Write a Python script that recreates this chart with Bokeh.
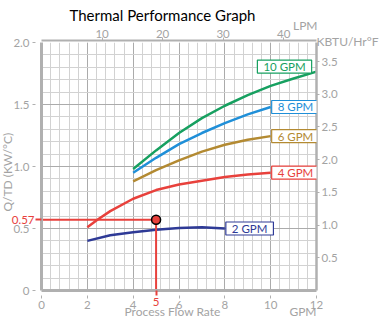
import numpy as np
from bokeh.plotting import figure
from bokeh.models import Range1d, LinearAxis, FixedTicker, Label, Title
from bokeh.embed import file_html
from bokeh.resources import INLINE

# ---- data ----
flow_2 = [2, 3, 4, 5, 6, 7, 8]
q_2 = [0.40, 0.445, 0.47, 0.49, 0.505, 0.51, 0.50]
flow_4 = [2, 2.44, 3, 4, 5, 6, 7, 8, 9, 10]
q_4 = [0.51, 0.57, 0.64, 0.74, 0.81, 0.855, 0.885, 0.915, 0.935, 0.95]
flow_6 = [4, 5, 6, 7, 8, 9, 10]
q_6 = [0.88, 0.97, 1.05, 1.12, 1.175, 1.215, 1.245]
flow_8 = [4, 5, 6, 7, 8, 9, 10]
q_8 = [0.95, 1.07, 1.18, 1.27, 1.35, 1.42, 1.48]
flow_10 = [4, 5, 6, 7, 8, 9, 10, 11, 12]
q_10 = [0.98, 1.13, 1.27, 1.39, 1.49, 1.575, 1.65, 1.71, 1.765]

series_names = ["2 GPM", "4 GPM", "6 GPM", "8 GPM", "10 GPM"]
series_colors = ["#2e3a96", "#e8413c", "#b38a32", "#1f8fd8", "#17a060"]

gpm_ticks = [0, 2, 4, 6, 8, 10, 12]
q_ticks = [0, 0.5, 1.0, 1.5, 2.0]
lpm_ticks = [10, 20, 30, 40]
kbtu_ticks = [0.5, 1.0, 1.5, 2.0, 2.5, 3.0, 3.5]

highlight_flow = 5
highlight_q = 0.57

GPM_MAX = 12
Q_MAX = 2.0
LPM_PER_GPM = 3.785
KBTU_PER_KW_C = 1.896

FONT = "Lato"
GRAY = "#a3a3a3"
AX = "#b0b0b0"
RED = "#e8413c"

p = figure(width=380, height=324, x_range=Range1d(0, GPM_MAX), y_range=Range1d(0, Q_MAX),
           output_backend="svg", toolbar_location=None, title_location=None,
           min_border_left=41, min_border_right=64, min_border_top=42, min_border_bottom=34)
p.outline_line_color = None
p.background_fill_color = "white"

p.extra_x_ranges = {"lpm": Range1d(0, GPM_MAX * LPM_PER_GPM)}
p.extra_y_ranges = {"kbtu": Range1d(0, Q_MAX * KBTU_PER_KW_C)}


def style_axis(ax, line_width=0, line_color=None, tick_color=AX, tick_out=3, label_color=GRAY,
               standoff=3, font_size="11.5px"):
    ax.axis_line_color = line_color
    ax.axis_line_width = line_width
    ax.major_tick_line_color = tick_color
    ax.major_tick_in = 0
    ax.major_tick_out = tick_out
    ax.minor_tick_line_color = None
    ax.major_label_text_color = label_color
    ax.major_label_text_font = FONT
    ax.major_label_text_font_size = font_size
    ax.major_label_standoff = standoff


def title(text, side, align="left", offset=0, standoff=0, valign="bottom", color=GRAY, size="12px"):
    p.add_layout(Title(text=text, align=align, offset=offset, standoff=standoff,
                       vertical_align=valign, text_color=color, text_font=FONT,
                       text_font_size=size, text_font_style="normal"), side)


# ---------- left side (frame outward) ----------
ya = p.yaxis[0]                      # axis line + red tick of the highlighted reading
ya.ticker = FixedTicker(ticks=[highlight_q])
style_axis(ya, 3, AX, tick_color=RED, tick_out=6, standoff=-5, font_size="0px")
ya.major_tick_line_width = 2
ya.major_label_overrides = {highlight_q: ""}
yb = LinearAxis(ticker=FixedTicker(ticks=q_ticks))   # gray ticks and labels
style_axis(yb, standoff=3)
yb.major_label_overrides = {0: "0", 0.5: "0.5", 1.0: "1.0", 1.5: "1.5", 2.0: "2.0"}
p.add_layout(yb, "left")
yc = LinearAxis(ticker=FixedTicker(ticks=[highlight_q]))   # red label of the reading
style_axis(yc, tick_color=None, tick_out=0, label_color=RED, standoff=-24)
yc.major_label_overrides = {highlight_q: f"{highlight_q:.2f}"}
p.add_layout(yc, "left")
title("Q/TD (KW/°C)", "left", align="left", offset=79, standoff=-12, valign="bottom")

# ---------- bottom side (frame outward) ----------
xa = p.xaxis[0]
xa.ticker = FixedTicker(ticks=[highlight_flow])
style_axis(xa, 3, AX, tick_color=RED, tick_out=5, standoff=-5, font_size="0px")
xa.major_tick_line_width = 2
xa.major_label_overrides = {highlight_flow: ""}
xb = LinearAxis(ticker=FixedTicker(ticks=gpm_ticks))
style_axis(xb, standoff=2)
p.add_layout(xb, "below")
xc = LinearAxis(ticker=FixedTicker(ticks=[highlight_flow]))
style_axis(xc, tick_color=None, tick_out=0, label_color=RED, standoff=-14)
xc.major_label_overrides = {highlight_flow: f"{highlight_flow}"}
p.add_layout(xc, "below")
title("Process Flow Rate", "below", align="left", offset=83, standoff=-16, valign="top")
title("GPM", "below", align="right", offset=0, standoff=-18, valign="top")

# ---------- top side (frame outward) ----------
title("KBTU/Hr°F", "above", align="right", offset=-62, standoff=-15, valign="middle")
top = LinearAxis(x_range_name="lpm", ticker=FixedTicker(ticks=lpm_ticks))
style_axis(top, 2, AX, standoff=0)
p.add_layout(top, "above")
title("LPM", "above", align="right", offset=-1, standoff=-15, valign="middle")
title("Thermal Performance Graph", "above", align="left", offset=28, standoff=1,
      valign="bottom", color="black", size="15px")

# ---------- right side ----------
right = LinearAxis(y_range_name="kbtu", ticker=FixedTicker(ticks=kbtu_ticks))
right.major_label_overrides = {t: f"{t:.1f}" for t in kbtu_ticks}
style_axis(right, 2.5, AX, standoff=2)
p.add_layout(right, "right")

# grid
p.xgrid.ticker = FixedTicker(ticks=gpm_ticks, minor_ticks=list(np.arange(0, GPM_MAX + 0.01, 0.4)))
p.ygrid.ticker = FixedTicker(ticks=q_ticks, minor_ticks=list(np.arange(0, Q_MAX + 0.01, 0.1)))
for g in (p.xgrid, p.ygrid):
    g.grid_line_color = "#ababab"
    g.grid_line_width = 1
    g.minor_grid_line_color = "#d2d2d2"
    g.minor_grid_line_width = 1

# curves
flows = [flow_2, flow_4, flow_6, flow_8, flow_10]
qs = [q_2, q_4, q_6, q_8, q_10]
for fx, qy, c in zip(flows, qs, series_colors):
    p.line(fx, qy, line_color=c, line_width=2.5)

# highlight lines and point
p.segment(x0=[0, highlight_flow], y0=[highlight_q, highlight_q],
          x1=[highlight_flow, highlight_flow], y1=[highlight_q, 0], line_color=RED, line_width=2)
p.scatter([highlight_flow], [highlight_q], size=9, fill_color=RED, line_color="black", line_width=1.5)

# series labels
for name, fx, qy, c in zip(series_names, flows, qs, series_colors):
    if name == "10 GPM":
        lx, ly, xo = 9.42, 1.806, 0
    else:
        lx, ly, xo = fx[-1], qy[-1], 1
    p.add_layout(Label(x=lx, y=ly, x_offset=xo, text=name, text_align="left", text_baseline="middle",
                       text_color=c, text_font=FONT, text_font_size="11.5px",
                       border_line_color=c, border_line_width=1.2, background_fill_color="white",
                       padding=(6, 0)))

open("out.html", "w").write(file_html(p, INLINE))
